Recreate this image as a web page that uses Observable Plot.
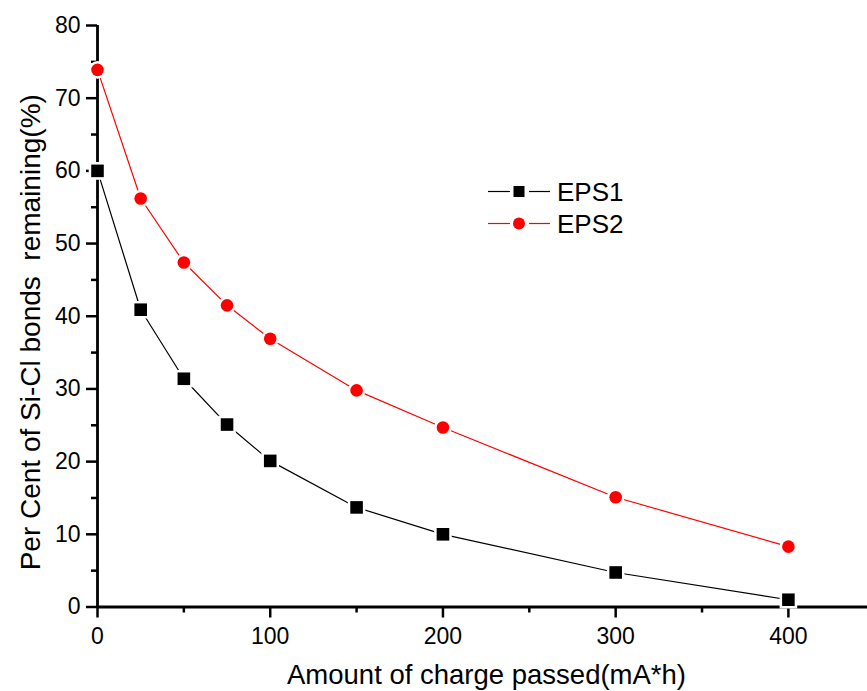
<!DOCTYPE html>
<html>
<head>
<meta charset="utf-8">
<script src="https://cdn.jsdelivr.net/npm/d3@7"></script>
<script src="https://cdn.jsdelivr.net/npm/@observablehq/plot@0.6"></script>
<style>
  html, body { margin: 0; padding: 0; background: #fff; }
  #wrap { position: relative; width: 867px; height: 691px; font-family: "Liberation Sans", Arial, Helvetica, sans-serif; }
  #legend { position: absolute; left: 0; top: 0; pointer-events: none; }
</style>
</head>
<body>
<div id="wrap"></div>
<script>
// Data
const charge = [0, 25, 50, 75, 100, 150, 200, 300, 400];
const eps1 = [60, 40.9, 31.4, 25.1, 20.1, 13.7, 10.0, 4.75, 1.0];
const eps2 = [73.9, 56.2, 47.4, 41.5, 36.9, 29.8, 24.7, 15.1, 8.3];
const seriesNames = ["EPS1", "EPS2"];
const xTicks = [0, 100, 200, 300, 400];
const xMinor = [50, 150, 250, 350];
const yTicks = [0, 10, 20, 30, 40, 50, 60, 70, 80];
const yMinor = [5, 15, 25, 35, 45, 55, 65, 75];
const xTitle = "Amount of charge passed(mA*h)";
const yTitle = "Per Cent of Si-Cl bonds  remaining(%)";

const d1 = charge.map((c, i) => ({x: c, y: eps1[i], s: seriesNames[0]}));
const d2 = charge.map((c, i) => ({x: c, y: eps2[i], s: seriesNames[1]}));

const font = "'Liberation Sans', Arial, Helvetica, sans-serif";

const chart = Plot.plot({
  width: 867,
  height: 691,
  marginLeft: 97,
  marginRight: 0,
  marginTop: 25,
  marginBottom: 84.5,
  style: {fontFamily: font, background: "white", color: "black"},
  x: {domain: [0, 445.8]},
  y: {domain: [0, 80]},
  marks: [
    Plot.axisX({ticks: xTicks, tickSize: 11, tickPadding: 10, strokeWidth: 2.5, fontSize: 23, label: null}),
    Plot.axisX({ticks: xMinor, tickSize: 6, tickFormat: () => "", strokeWidth: 2.5, label: null}),
    Plot.axisY({ticks: yTicks, tickSize: 11, tickPadding: 6, strokeWidth: 2.5, fontSize: 23, label: null}),
    Plot.axisY({ticks: yMinor, tickSize: 6, tickFormat: () => "", strokeWidth: 2.5, label: null}),
    Plot.ruleY([0], {strokeWidth: 2.8}),
    Plot.ruleX([0], {y1: 0, y2: 80, strokeWidth: 2.8}),
    Plot.line(d1, {x: "x", y: "y", stroke: "black", strokeWidth: 1.2}),
    Plot.line(d2, {x: "x", y: "y", stroke: "#ff0000", strokeWidth: 1.2}),
    Plot.dot(d1, {x: "x", y: "y", symbol: "square", r: 7.1, fill: "black", stroke: "white", strokeWidth: 5, paintOrder: "stroke"}),
    Plot.dot(d2, {x: "x", y: "y", symbol: "circle", r: 6.3, fill: "#ff0000", stroke: "white", strokeWidth: 5, paintOrder: "stroke"}),
    Plot.text([xTitle], {frameAnchor: "bottom", textAnchor: "middle", dx: 4, dy: 77, fontSize: 27.5, fill: "black"}),
    Plot.text([yTitle], {frameAnchor: "left", textAnchor: "middle", rotate: -90, dx: -66, dy: 16, fontSize: 28, fill: "black"})
  ]
});

const wrap = document.getElementById("wrap");
wrap.appendChild(chart);

// Legend (HTML overlay SVG)
const leg = d3.select(wrap).append("svg")
  .attr("id", "legend")
  .attr("width", 867).attr("height", 691);
const rows = [
  {name: seriesNames[0], color: "black", sym: "square", cy: 191.5},
  {name: seriesNames[1], color: "#ff0000", sym: "circle", cy: 223.5}
];
rows.forEach(r => {
  const g = leg.append("g");
  g.append("line").attr("x1", 488).attr("x2", 510).attr("y1", r.cy).attr("y2", r.cy)
    .attr("stroke", r.color).attr("stroke-width", 1.2);
  g.append("line").attr("x1", 529).attr("x2", 550).attr("y1", r.cy).attr("y2", r.cy)
    .attr("stroke", r.color).attr("stroke-width", 1.2);
  if (r.sym === "square") {
    g.append("rect").attr("x", 513.5).attr("y", r.cy - 5.5).attr("width", 11).attr("height", 11).attr("fill", r.color);
  } else {
    g.append("circle").attr("cx", 519).attr("cy", r.cy).attr("r", 6).attr("fill", r.color);
  }
  g.append("text").attr("x", 557).attr("y", r.cy).attr("dy", "0.36em")
    .attr("font-family", font).attr("font-size", 26).attr("fill", "black").text(r.name);
});
</script>
</body>
</html>
